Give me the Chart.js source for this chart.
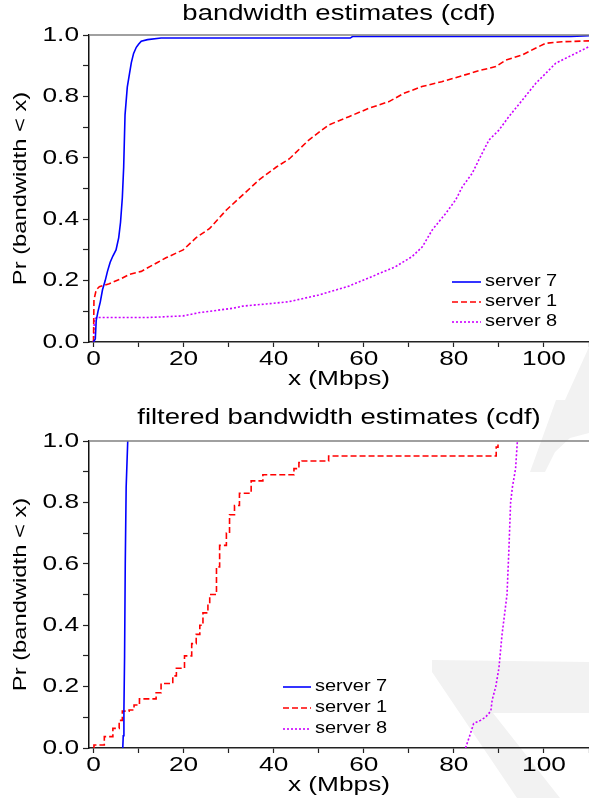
<!DOCTYPE html>
<html>
<head>
<meta charset="utf-8">
<script src="https://cdn.jsdelivr.net/npm/chart.js@4/dist/chart.umd.min.js"></script>
<style>
  html, body { margin: 0; padding: 0; background: #fff; }
  .box { position: relative; width: 589px; }
  canvas { display: block; }
</style>
</head>
<body>
<div class="box"><canvas id="rawChart" width="589" height="400"></canvas></div>
<div class="box"><canvas id="filteredChart" width="589" height="398"></canvas></div>
<script>
const xTicks = [0, 10, 20, 30, 40, 50, 60, 70, 80, 90, 100, 110];
const yTicks = [0, 0.1, 0.2, 0.3, 0.4, 0.5, 0.6, 0.7, 0.8, 0.9, 1.0];
const seriesNames = ['server 7', 'server 1', 'server 8'];

// raw estimates (cdf)
const raw7X = [0, 0.4, 0.6, 1.0, 1.5, 2.0, 2.6, 3.1, 3.7, 4.3, 5.0, 5.6, 6.0, 6.4, 6.7, 7.0, 7.5, 8.0, 8.4, 8.9, 9.5, 10.0, 10.6, 12, 15, 57, 57.5, 106, 110];
const raw7Y = [0, 0.01, 0.07, 0.10, 0.13, 0.17, 0.20, 0.23, 0.26, 0.28, 0.30, 0.34, 0.39, 0.47, 0.57, 0.74, 0.83, 0.875, 0.91, 0.94, 0.96, 0.97, 0.98, 0.985, 0.99, 0.99, 0.995, 0.995, 0.998];
const raw1X = [0, 0.1, 0.6, 1.3, 3.5, 6.0, 7.9, 10.6, 14.3, 16.2, 19.9, 22.8, 25.8, 29.5, 33.2, 36.9, 40.6, 43.5, 47.8, 52.2, 56.7, 61.1, 65.6, 68.9, 72.9, 77.3, 81.1, 85.6, 89.3, 91.5, 95.2, 98.1, 100.4, 104, 110];
const raw1Y = [0, 0.137, 0.17, 0.18, 0.19, 0.205, 0.22, 0.23, 0.26, 0.275, 0.30, 0.34, 0.37, 0.43, 0.48, 0.53, 0.57, 0.597, 0.658, 0.707, 0.734, 0.761, 0.783, 0.81, 0.832, 0.848, 0.864, 0.884, 0.897, 0.918, 0.935, 0.957, 0.973, 0.978, 0.981];
const raw8X = [0, 0.2, 1.3, 12.4, 19.9, 23.6, 31, 33.2, 38.4, 43.3, 50, 56.7, 62.6, 67, 70.7, 73, 75.2, 78.2, 80.4, 81.9, 84.1, 85.9, 87.8, 90, 92.2, 95.2, 98.2, 100.4, 102.6, 106.3, 110];
const raw8Y = [0, 0.077, 0.08, 0.08, 0.085, 0.096, 0.11, 0.117, 0.124, 0.131, 0.153, 0.182, 0.218, 0.245, 0.278, 0.31, 0.365, 0.419, 0.463, 0.506, 0.55, 0.604, 0.658, 0.69, 0.734, 0.788, 0.843, 0.875, 0.908, 0.935, 0.962];

// filtered estimates (cdf)
const filt7X = [6.5, 6.6, 6.75, 6.9, 7.05, 7.25, 7.6];
const filt7Y = [0, 0.04, 0.12, 0.3, 0.6, 0.85, 1.0];
const filt1X = [0, 0.1, 2.4, 4.3, 5.7, 6.4, 7.9, 9.0, 10.2, 13.9, 15.0, 17.6, 18.4, 20.2, 21.8, 22.8, 23.6, 24.3, 25.4, 25.8, 27.3, 28.0, 29.5, 30.2, 31.3, 32.4, 35.0, 37.6, 44.5, 45.6, 46.3, 52.2, 89.4, 89.8];
const filt1Y = [0, 0.01, 0.037, 0.064, 0.09, 0.12, 0.124, 0.14, 0.16, 0.18, 0.21, 0.235, 0.26, 0.30, 0.34, 0.37, 0.40, 0.44, 0.47, 0.50, 0.59, 0.66, 0.70, 0.76, 0.79, 0.83, 0.87, 0.89, 0.91, 0.93, 0.935, 0.951, 0.98, 1.0];
const filt8X = [82.6, 83.7, 84.4, 85.9, 87.0, 88.2, 88.5, 89.3, 90.0, 90.7, 91.8, 92.2, 92.6, 93.0, 93.7, 94.1];
const filt8Y = [0, 0.048, 0.08, 0.09, 0.10, 0.12, 0.156, 0.20, 0.26, 0.37, 0.50, 0.64, 0.80, 0.85, 0.91, 1.0];

const TEXT_STRETCH = 1.25;
Chart.defaults.font.family = '"Liberation Sans", Arial, sans-serif';
Chart.defaults.color = '#000';

const pts = (xs, ys) => xs.map((x, i) => ({ x: x, y: ys[i] }));

// the original lettering is wide, so stretch every text run horizontally
const wideText = {
    id: 'wideText',
    beforeInit(chart) {
        const ctx = chart.ctx;
        const fill = ctx.fillText;
        ctx.fillText = function (t, x, y, mw) {
            this.save();
            this.translate(x, y);
            this.scale(TEXT_STRETCH, 1);
            if (mw === undefined) fill.call(this, t, 0, 0);
            else fill.call(this, t, 0, 0, mw / TEXT_STRETCH);
            this.restore();
        };
    }
};

const backdrop = {
    id: 'backdrop',
    beforeDraw(chart, args, opts) {
        const ctx = chart.ctx;
        ctx.save();
        ctx.fillStyle = '#f2f2f2';
        (opts.shapes || []).forEach(poly => {
            ctx.beginPath();
            poly.forEach((p, i) => i ? ctx.lineTo(p[0], p[1]) : ctx.moveTo(p[0], p[1]));
            ctx.closePath();
            ctx.fill();
        });
        ctx.restore();
    },
    afterDraw(chart) {
        const { ctx, chartArea } = chart;
        ctx.save();
        ctx.strokeStyle = '#808080';
        ctx.lineWidth = 1.5;
        ctx.beginPath();
        ctx.moveTo(chartArea.left, chartArea.top);
        ctx.lineTo(chartArea.right, chartArea.top);
        ctx.stroke();
        ctx.restore();
    }
};

const lineKey = {
    id: 'lineKey',
    afterDraw(chart, args, opts) {
        const ctx = chart.ctx;
        ctx.save();
        ctx.font = '16px "Liberation Sans", Arial, sans-serif';
        ctx.textBaseline = 'middle';
        ctx.textAlign = 'left';
        chart.data.datasets.forEach((ds, i) => {
            const y = opts.y + i * opts.gap;
            ctx.strokeStyle = ds.borderColor;
            ctx.lineWidth = ds.borderWidth;
            ctx.setLineDash(ds.borderDash || []);
            ctx.beginPath();
            ctx.moveTo(opts.x, y);
            ctx.lineTo(opts.x + opts.len, y);
            ctx.stroke();
            ctx.fillStyle = '#000';
            ctx.fillText(ds.label, opts.x + opts.len + 4, y);
        });
        ctx.restore();
    }
};

function makeDatasets(s7, s1, s8, stepRed) {
    return [
        { label: seriesNames[0], data: s7, borderColor: '#0000ff', borderWidth: 1.6 },
        { label: seriesNames[1], data: s1, borderColor: '#ff0000', borderWidth: 1.6, borderDash: [6, 3], stepped: stepRed ? 'before' : false },
        { label: seriesNames[2], data: s8, borderColor: '#cc00ff', borderWidth: 1.6, borderDash: [2, 2] }
    ];
}

function makeChart(id, title, datasets, cfg) {
    return new Chart(document.getElementById(id), {
        type: 'scatter',
        data: { datasets: datasets },
        plugins: [wideText, backdrop, lineKey],
        options: {
            responsive: false,
            animation: false,
            showLine: true,
            elements: { point: { radius: 0 }, line: { tension: 0 } },
            layout: { padding: 0 },
            plugins: {
                legend: { display: false },
                tooltip: { enabled: false },
                title: {
                    display: true,
                    text: title,
                    fullSize: false,
                    color: '#000',
                    font: { size: 22, weight: 'normal', lineHeight: 0.9 },
                    padding: { top: cfg.titleTop, bottom: cfg.plotTop - cfg.titleTop - 19.8 }
                },
                backdrop: { shapes: cfg.shapes },
                lineKey: cfg.key
            },
            scales: {
                x: {
                    type: 'linear',
                    min: -1,
                    max: 110,
                    afterFit: s => { s.height = cfg.xAxisHeight; },
                    afterBuildTicks: s => { s.ticks = xTicks.map(v => ({ value: v })); },
                    ticks: {
                        padding: 0,
                        font: { size: 21 },
                        maxRotation: 0,
                        autoSkip: false,
                        callback: v => (v % 20 === 0 ? String(v) : '')
                    },
                    grid: { drawOnChartArea: false, tickLength: 5, tickColor: '#222', tickWidth: 1.2 },
                    border: { color: '#222', width: 1.5 },
                    title: { display: true, text: 'x (Mbps)', font: { size: 21 }, padding: { top: 0, bottom: cfg.xTitlePad } }
                },
                y: {
                    type: 'linear',
                    min: 0,
                    max: 1,
                    afterFit: s => { s.width = 89; },
                    afterBuildTicks: s => { s.ticks = yTicks.map(v => ({ value: v })); },
                    ticks: {
                        padding: 4,
                        font: { size: 21 },
                        autoSkip: false,
                        callback: v => (Math.round(v * 10) % 2 === 0 ? v.toFixed(1) : '')
                    },
                    grid: { drawOnChartArea: false, tickLength: 6, tickColor: '#222', tickWidth: 1.2 },
                    border: { color: '#111', width: 1.5 },
                    title: { display: true, text: 'Pr (bandwidth < x)', font: { size: 19 }, padding: { top: 9, bottom: 0 } }
                }
            }
        }
    });
}

makeChart('rawChart', 'bandwidth estimates (cdf)',
    makeDatasets(pts(raw7X, raw7Y), pts(raw1X, raw1Y), pts(raw8X, raw8Y), false),
    {
        titleTop: 4, plotTop: 35, xAxisHeight: 58, xTitlePad: 8,
        key: { x: 452, y: 282, gap: 20, len: 29 },
        shapes: [[[565, 400], [589, 347], [589, 400]]]
    });

makeChart('filteredChart', 'filtered bandwidth estimates (cdf)',
    makeDatasets(pts(filt7X, filt7Y), pts(filt1X, filt1Y), pts(filt8X, filt8Y), true),
    {
        titleTop: 8, plotTop: 41, xAxisHeight: 50, xTitlePad: 0,
        key: { x: 283, y: 287, gap: 21, len: 28 },
        shapes: [
            [[556, 0], [589, 0], [589, 33], [570, 38], [555, 52], [545, 72], [530, 72]],
            [[432, 260], [589, 262], [589, 313], [493, 313], [560, 398], [517, 398], [432, 272]]
        ]
    });
</script>
</body>
</html>
